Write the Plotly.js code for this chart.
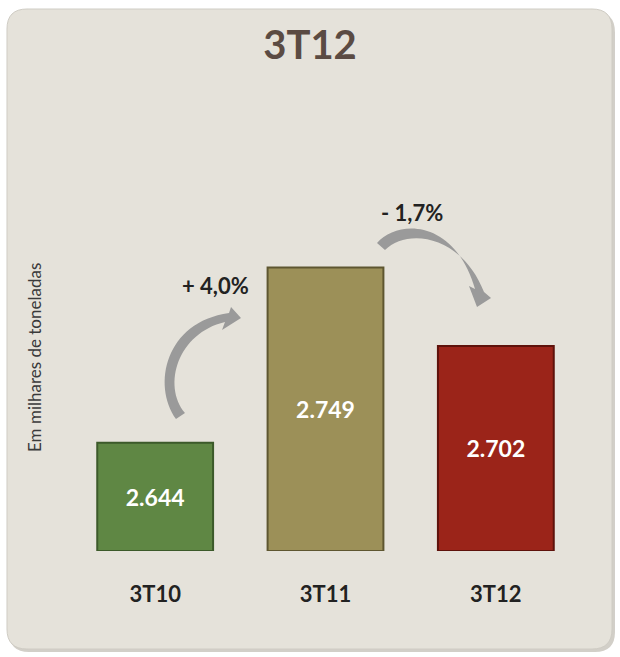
<!DOCTYPE html>
<html><head><meta charset="utf-8">
<script src="https://cdn.plot.ly/plotly-3.0.1.min.js"></script>
<style>html,body{margin:0;padding:0;background:#fff}#chart{width:620px;height:657px}</style>
</head><body><div id="chart"></div>
<script>
const categories = ["3T10", "3T11", "3T12"];
const values = [2644, 2749, 2702];
const valueLabels = ["2.644", "2.749", "2.702"];
const barColors = ["#5f8744", "#9c9058", "#9b2419"];
const barEdges = ["#3c5a2a", "#5e5630", "#5e120b"];
const changeLabels = ["+ 4,0%", "- 1,7%"];

const W = 620, H = 657, M = {l: 70, r: 39, t: 90, b: 106};
const PW = W - M.l - M.r, PH = H - M.t - M.b;
function px(x, y) { return ((x - M.l) / PW).toFixed(4) + "," + ((H - M.b - y) / PH).toFixed(4); }
function path(cmds) {
  return cmds.map(c => typeof c === "string" ? c : px(c[0], c[1])).join(" ");
}
function roundRect(x0, y0, x1, y1, r) {
  return path(["M", [x0 + r, y0], "L", [x1 - r, y0], "Q", [x1, y0], [x1, y0 + r], "L", [x1, y1 - r],
    "Q", [x1, y1], [x1 - r, y1], "L", [x0 + r, y1], "Q", [x0, y1], [x0, y1 - r], "L", [x0, y0 + r],
    "Q", [x0, y0], [x0 + r, y0], "Z"]);
}
const arrow1 = path(["M", [176, 419], "C", [152, 385], [165, 322], [229, 313], "L", [231, 307], "L", [241, 318],
  "L", [222, 330], "L", [225, 322], "C", [178, 333], [162, 385], [185, 413], "Z"]);
const arrow2 = path(["M", [377, 243], "C", [398, 219], [455, 219], [475, 289], "L", [469, 286], "L", [477, 307],
  "L", [491, 298], "L", [484, 292], "C", [461, 234], [407, 228], [385, 250], "Z"]);

const yMin = 2579, pxPerUnit = 1.667;
const yMax = yMin + PH / pxPerUnit;

const trace = {
  type: "bar", x: categories, base: yMin, y: values.map(v => v - yMin), text: valueLabels,
  textposition: "inside", insidetextanchor: "middle", textangle: 0,
  textfont: {family: "Lato, 'Open Sans', sans-serif", size: 23, color: "#ffffff", weight: 700},
  marker: {color: barColors, line: {color: barEdges, width: 2}},
  hoverinfo: "skip"
};

const font = "Lato, 'Open Sans', sans-serif";
const layout = {
  width: W, height: H, margin: M,
  paper_bgcolor: "#ffffff", plot_bgcolor: "rgba(0,0,0,0)",
  showlegend: false, bargap: 0.32,
  title: {text: "<b>3T12</b>", x: 0.5, xanchor: "center", y: 1 - 45 / H, yanchor: "middle",
    font: {family: font, size: 40, color: "#5b4b43"}},
  xaxis: {range: [-0.5, 2.5], showgrid: false, zeroline: false, showline: false, ticks: "",
    tickfont: {family: font, size: 22, color: "#222222", weight: 700}, ticklabelstandoff: 28, fixedrange: true},
  yaxis: {range: [yMin, yMax], showgrid: false, zeroline: false, showline: false, showticklabels: false, ticks: "", fixedrange: true},
  shapes: [
    {type: "path", xref: "paper", yref: "paper", path: roundRect(9, 12, 615, 652, 20), layer: "below",
      fillcolor: "#d2cfc8", line: {width: 0}},
    {type: "path", xref: "paper", yref: "paper", path: roundRect(7, 9, 612, 649, 20), layer: "below",
      fillcolor: "#e5e2da", line: {color: "#cfccc4", width: 1}},
    {type: "path", xref: "paper", yref: "paper", path: arrow1, fillcolor: "#9a9a9a", line: {width: 0}},
    {type: "path", xref: "paper", yref: "paper", path: arrow2, fillcolor: "#9a9a9a", line: {width: 0}}
  ],
  annotations: [
    {text: "Em milhares de toneladas", xref: "paper", yref: "paper", x: (34 - M.l) / PW, y: (H - M.b - 358) / PH,
      textangle: -90, showarrow: false, xanchor: "center", yanchor: "middle",
      font: {family: font, size: 17, color: "#3a3a3a"}},
    {text: "<b>" + changeLabels[0] + "</b>", xref: "paper", yref: "paper", x: (215 - M.l) / PW, y: (H - M.b - 285) / PH,
      showarrow: false, xanchor: "center", yanchor: "middle", font: {family: font, size: 22, color: "#222222"}},
    {text: "<b>" + changeLabels[1] + "</b>", xref: "paper", yref: "paper", x: (412 - M.l) / PW, y: (H - M.b - 212) / PH,
      showarrow: false, xanchor: "center", yanchor: "middle", font: {family: font, size: 22, color: "#222222"}}
  ]
};
Plotly.newPlot("chart", [trace], layout, {displayModeBar: false, staticPlot: true});
</script></body></html>
